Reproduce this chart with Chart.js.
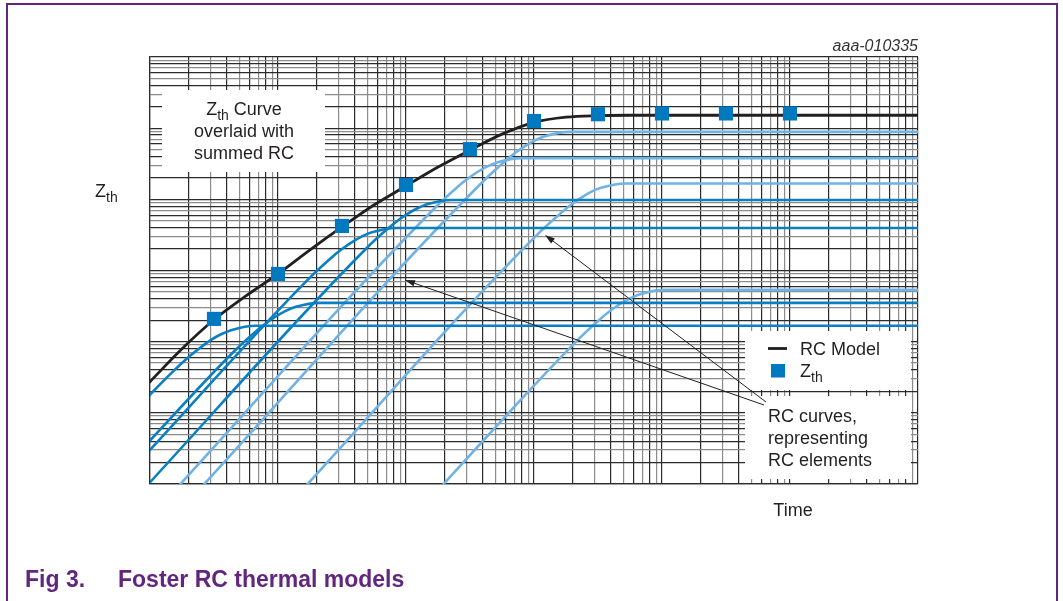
<!DOCTYPE html>
<html>
<head>
<meta charset="utf-8">
<script src="https://cdn.jsdelivr.net/npm/chart.js@4/dist/chart.umd.min.js"></script>
<style>
  html, body { margin: 0; padding: 0; background: #fff; }
  canvas { display: block; }
</style>
</head>
<body>
<canvas id="zth" width="1063" height="601"></canvas>
<script>
// --- axes: six decades each, no tick labels on the original ---
const TIME_MIN = 1e-6, TIME_MAX = 1;
const Z_MIN = 1e-4, Z_MAX = 100;
const gridSteps = [1, 2, 3, 4, 5, 6, 7, 8, 9];
const graySteps = [3, 5, 7, 9];

// --- measured Zth (squares) ---
const zthTime  = [3.16e-6, 1e-5, 3.16e-5, 1e-4, 3.16e-4, 1e-3, 3.16e-3, 1e-2, 3.16e-2, 0.1];
const zthValue = [0.0209, 0.0895, 0.423, 1.59, 5.08, 12.6, 15.7, 16.1, 16.1, 16.1];

// --- summed RC model (black curve) ---
const modelTime  = [8.35e-7, 1e-6, 1.78e-6, 3.16e-6, 5.62e-6, 1e-5, 1.78e-5, 3.16e-5, 5.62e-5, 1e-4,
                    1.78e-4, 3.16e-4, 5.62e-4, 1e-3, 1.78e-3, 3.16e-3, 5.62e-3, 1e-2, 1];
const modelValue = [0.00196, 0.00274, 0.00795, 0.0203, 0.044, 0.0896, 0.195, 0.409, 0.832, 1.54,
                    2.84, 4.91, 8.24, 12.1, 14.3, 15.0, 15.2, 15.2, 15.2];

// --- single RC elements (dark blue) ---
const rc1Time  = [8.35e-7, 1.46e-6, 2.09e-6, 2.51e-6, 3.0e-6, 3.59e-6, 4.3e-6, 6.74e-6, 1];
const rc1Value = [0.00129, 0.00358, 0.00648, 0.00842, 0.0106, 0.0127, 0.0145, 0.0167, 0.0167];
const rc2Time  = [8.35e-7, 4.61e-6, 6.61e-6, 7.91e-6, 9.48e-6, 1.13e-5, 1.36e-5, 2.13e-5, 1];
const rc2Value = [2.89e-4, 0.00752, 0.0136, 0.0177, 0.0222, 0.0267, 0.0306, 0.0351, 0.0351];
const rc3Time  = [8.35e-7, 1.84e-5, 2.64e-5, 3.16e-5, 3.79e-5, 4.53e-5, 5.42e-5, 8.5e-5, 1];
const rc3Value = [2.12e-4, 0.0847, 0.154, 0.2, 0.25, 0.301, 0.344, 0.396, 0.396];
const rc4Time  = [8.35e-7, 4.96e-5, 7.11e-5, 8.5e-5, 1.02e-4, 1.22e-4, 1.46e-4, 2.29e-4, 1];
const rc4Value = [7.43e-5, 0.209, 0.379, 0.493, 0.618, 0.743, 0.851, 0.978, 0.978];

// --- single RC elements (light blue) ---
const rc5Time  = [1.34e-6, 1.75e-4, 2.5e-4, 2.99e-4, 3.59e-4, 4.29e-4, 5.14e-4, 8.05e-4, 1];
const rc5Value = [6.06e-5, 0.812, 1.47, 1.91, 2.4, 2.88, 3.3, 3.79, 3.79];
const rc6Time  = [2.06e-6, 4.14e-4, 5.94e-4, 7.1e-4, 8.51e-4, 1.02e-3, 1.22e-3, 1.91e-3, 1];
const rc6Value = [6.06e-5, 1.9, 3.44, 4.47, 5.61, 6.74, 7.72, 8.87, 8.87];
const rc7Time  = [1.32e-5, 1.13e-3, 1.63e-3, 1.95e-3, 2.33e-3, 2.79e-3, 3.34e-3, 5.23e-3, 1];
const rc7Value = [6.06e-5, 0.357, 0.646, 0.84, 1.05, 1.27, 1.45, 1.67, 1.67];
const rc8Time  = [1.52e-4, 2.29e-3, 3.28e-3, 3.92e-3, 4.7e-3, 5.62e-3, 6.73e-3, 1.06e-2, 1];
const rc8Value = [6.06e-5, 0.0114, 0.0207, 0.0269, 0.0338, 0.0406, 0.0465, 0.0534, 0.0534];

const FONT = "'Liberation Sans', Arial, sans-serif";
const INK = '#231f20';
const PURPLE = '#62267f';
const DARK_BLUE = '#0a7fc3';
const LIGHT_BLUE = '#6fb2e5';
const SQUARE_BLUE = '#0079c1';
const GRID_DARK = '#2b2b2b';
const GRID_GRAY = '#8c8c8c';

const pts = (t, v) => t.map((x, i) => ({ x, y: v[i] }));

function curve(t, v, color, width) {
  return {
    data: pts(t, v), showLine: true, borderColor: color, borderWidth: width,
    pointRadius: 0, cubicInterpolationMode: 'monotone', clip: 0
  };
}

function decadeTicks(min, max) {
  const out = [];
  for (let e = Math.round(Math.log10(min)); e < Math.round(Math.log10(max)); e++) {
    gridSteps.forEach(k => out.push(k * Math.pow(10, e)));
  }
  out.push(max);
  return out.map(value => ({ value }));
}

function gridColor(ctx) {
  const v = ctx.tick && ctx.tick.value;
  if (!v) return GRID_DARK;
  const k = Math.round(v / Math.pow(10, Math.floor(Math.log10(v) + 1e-9)));
  return graySteps.includes(k) ? GRID_GRAY : GRID_DARK;
}

function axis(min, max, pos) {
  return {
    type: 'logarithmic', position: pos, min, max,
    afterBuildTicks: s => { s.ticks = decadeTicks(min, max); },
    ticks: { display: false, autoSkip: false },
    grid: { color: gridColor, lineWidth: 1.2, drawTicks: false },
    border: { display: true, color: GRID_DARK, width: 1.2 },
    title: { display: false }
  };
}

// text with a subscript part, e.g. Z + th
function subText(ctx, x, y, main, sub, rest, size) {
  ctx.font = size + 'px ' + FONT;
  ctx.fillText(main, x, y);
  let w = ctx.measureText(main).width;
  ctx.font = Math.round(size * 0.78) + 'px ' + FONT;
  ctx.fillText(sub, x + w, y + size * 0.28);
  w += ctx.measureText(sub).width;
  if (rest) {
    ctx.font = size + 'px ' + FONT;
    ctx.fillText(rest, x + w, y);
    w += ctx.measureText(rest).width;
  }
  return w;
}

function arrow(ctx, x0, y0, x1, y1) {
  const a = Math.atan2(y1 - y0, x1 - x0);
  ctx.beginPath();
  ctx.moveTo(x0, y0);
  ctx.lineTo(x1 - 7 * Math.cos(a), y1 - 7 * Math.sin(a));
  ctx.stroke();
  ctx.beginPath();
  ctx.moveTo(x1, y1);
  ctx.lineTo(x1 - 10 * Math.cos(a) + 3.2 * Math.sin(a), y1 - 10 * Math.sin(a) - 3.2 * Math.cos(a));
  ctx.lineTo(x1 - 10 * Math.cos(a) - 3.2 * Math.sin(a), y1 - 10 * Math.sin(a) + 3.2 * Math.cos(a));
  ctx.closePath();
  ctx.fill();
}

const overlay = {
  id: 'overlay',
  beforeDatasetsDraw(chart) {
    const ctx = chart.ctx;
    ctx.save();
    ctx.fillStyle = '#fff';
    ctx.fillRect(162, 90, 163, 82);   // note box
    ctx.fillRect(745, 331, 166, 59);  // legend box
    ctx.fillRect(745, 396, 166, 83);  // RC curves box
    ctx.restore();
  },
  afterDraw(chart) {
    const ctx = chart.ctx;
    ctx.save();
    ctx.fillStyle = INK;
    ctx.strokeStyle = INK;
    ctx.textBaseline = 'alphabetic';

    // note, top left
    ctx.textAlign = 'left';
    const size = 18;
    ctx.font = size + 'px ' + FONT;
    let w = ctx.measureText('Z').width;
    ctx.font = '14px ' + FONT;
    w += ctx.measureText('th').width;
    ctx.font = size + 'px ' + FONT;
    w += ctx.measureText(' Curve').width;
    subText(ctx, 244 - w / 2, 115, 'Z', 'th', ' Curve', size);
    ctx.textAlign = 'center';
    ctx.font = size + 'px ' + FONT;
    ctx.fillText('overlaid with', 244, 137);
    ctx.fillText('summed RC', 244, 159);

    // legend
    ctx.textAlign = 'left';
    ctx.lineWidth = 2.8;
    ctx.beginPath();
    ctx.moveTo(768, 348.5);
    ctx.lineTo(787, 348.5);
    ctx.stroke();
    ctx.fillText('RC Model', 800, 355);
    ctx.fillStyle = SQUARE_BLUE;
    ctx.fillRect(771, 364, 14, 13.5);
    ctx.fillStyle = INK;
    subText(ctx, 800, 377, 'Z', 'th', '', size);

    // RC curves note
    ctx.font = size + 'px ' + FONT;
    ctx.fillText('RC curves,', 768, 422);
    ctx.fillText('representing', 768, 444);
    ctx.fillText('RC elements', 768, 466);

    // arrows
    ctx.lineWidth = 1;
    arrow(ctx, 766, 402, 545, 235);
    arrow(ctx, 764, 405, 405, 280);

    // axis titles
    subText(ctx, 95, 197, 'Z', 'th', '', size);
    ctx.textAlign = 'center';
    ctx.font = size + 'px ' + FONT;
    ctx.fillText('Time', 793, 516);

    ctx.textAlign = 'right';
    ctx.font = 'italic 16px ' + FONT;
    ctx.fillStyle = '#333';
    ctx.fillText('aaa-010335', 918, 51);

    // figure frame and caption
    ctx.strokeStyle = PURPLE;
    ctx.lineWidth = 2;
    ctx.strokeRect(7, 4, 1050, 700);
    ctx.fillStyle = PURPLE;
    ctx.textAlign = 'left';
    ctx.font = 'bold 23px ' + FONT;
    ctx.fillText('Fig 3.', 25, 587);
    ctx.fillText('Foster RC thermal models', 118, 587);
    ctx.restore();
  }
};

new Chart(document.getElementById('zth'), {
  type: 'scatter',
  data: {
    datasets: [
      { data: pts(zthTime, zthValue), pointStyle: 'rect', pointRadius: 10, pointBorderWidth: 0,
        pointBackgroundColor: SQUARE_BLUE, showLine: false },
      curve(modelTime, modelValue, INK, 2.8),
      curve(rc1Time, rc1Value, DARK_BLUE, 2.6),
      curve(rc2Time, rc2Value, DARK_BLUE, 2.6),
      curve(rc3Time, rc3Value, DARK_BLUE, 2.6),
      curve(rc4Time, rc4Value, DARK_BLUE, 2.6),
      curve(rc5Time, rc5Value, LIGHT_BLUE, 2.6),
      curve(rc6Time, rc6Value, LIGHT_BLUE, 2.6),
      curve(rc7Time, rc7Value, LIGHT_BLUE, 2.6),
      curve(rc8Time, rc8Value, LIGHT_BLUE, 2.6)
    ]
  },
  options: {
    responsive: false,
    devicePixelRatio: 1,
    animation: false,
    layout: { padding: { left: 150, right: 145, top: 57, bottom: 117 } },
    scales: {
      x: axis(TIME_MIN, TIME_MAX, 'bottom'),
      y: axis(Z_MIN, Z_MAX, 'left')
    },
    plugins: { legend: { display: false }, tooltip: { enabled: false } }
  },
  plugins: [overlay]
});
</script>
</body>
</html>
